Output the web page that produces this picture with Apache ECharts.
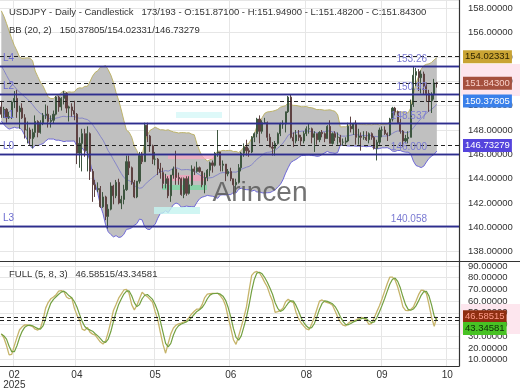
<!DOCTYPE html>
<html><head><meta charset="utf-8">
<script src="https://cdn.jsdelivr.net/npm/echarts@6/dist/echarts.min.js"></script>
<style>html,body{margin:0;padding:0;background:#fff}#c{width:520px;height:390px}</style>
</head><body><div id="c"></div>
<script>
// ---- warm-up bars before the first visible bar (needed for the 20-bar Bollinger window) ----
const warmHigh  = [157.5,157.8,157.3,156.6,155.5,155.9,155.0,154.6,152.9,152.4,152.2,152.7,154.8,154.4,153.2,152.4,152.0,152.1,151.6];
const warmLow   = [155.9,156.5,156.2,155.6,154.2,154.0,154.0,152.3,151.3,150.9,151.2,151.8,152.3,152.5,151.9,151.3,151.1,151.3,149.9];
const warmClose = [157.0,157.3,156.8,156.0,155.2,154.6,154.4,152.6,151.9,151.4,152.0,152.5,154.4,152.8,152.3,151.5,151.9,151.5,149.9];

// ---- visible daily candles ----
const open = [
149.9,149.3,149.7,149.0,149.1,150.3,150.6,149.5,149.8,149.0,
148.0,148.0,147.3,147.8,148.7,147.8,148.6,149.2,149.3,148.7,
148.8,149.3,150.7,149.9,150.6,151.0,149.8,149.9,149.6,149.3,
146.1,146.9,147.7,146.3,147.7,144.6,143.5,143.1,143.2,141.7,
142.5,140.9,141.5,143.4,142.6,143.7,142.0,142.3,143.1,145.4,
144.9,143.7,142.5,143.8,145.9,145.4,148.4,147.5,146.7,145.6,
145.6,144.8,144.5,143.6,144.0,142.6,144.3,144.8,144.1,144.0,
142.7,144.0,142.8,143.5,144.8,144.6,144.9,144.6,143.5,144.1,
144.7,145.3,145.1,146.1,146.2,145.1,145.2,144.4,144.6,144.0,
143.5,143.7,144.9,146.1,146.6,146.3,146.2,147.4,147.7,148.9,
147.9,148.6,148.6,147.4,146.6,146.5,146.9,147.7,148.5,148.5,
149.5,150.7,147.4,147.1,147.6,147.4,147.1,147.7,148.1,148.1,
147.4,147.7,147.2,147.8,147.7,147.3,148.3,146.9,147.7,147.4,
147.4,147.0,147.0,147.1,148.3,148.1,148.5,147.4,147.5,147.4,
147.4,147.2,147.7,147.4,146.5,147.0,148.0,148.0,147.7,147.6,
148.9,149.8,149.5,148.6,147.9,147.1,147.3,147.4,150.1,152.5,
152.8,152.3,152.6,151.6,151.0,150.4,150.9,151.871];
const high = [
150.4,149.9,149.8,149.5,150.4,151.2,151.3,150.0,150.2,149.3,
148.7,148.2,148.1,149.2,148.8,148.8,149.4,150.1,150.0,149.2,
149.6,150.8,150.8,150.7,151.2,151.1,150.0,150.2,150.4,149.4,
147.4,148.1,148.1,148.3,147.8,144.8,143.9,143.7,143.4,142.9,
142.6,141.9,143.7,143.5,143.9,144.0,142.6,143.5,145.9,145.9,
145.0,143.9,143.8,146.2,146.2,148.6,148.6,147.6,146.8,146.2,
145.7,145.3,144.9,144.4,144.2,144.3,145.0,146.3,144.5,144.1,
144.1,144.2,144.2,145.1,145.0,145.4,145.0,144.6,144.5,144.8,
145.4,145.5,146.2,148.0,146.2,145.5,145.2,144.8,144.9,144.0,
144.0,145.2,146.2,146.9,147.2,146.5,147.5,147.8,149.0,149.2,
148.8,149.0,148.7,147.7,147.0,147.1,147.8,148.6,148.8,149.5,
150.8,150.9,147.8,148.0,148.0,147.6,147.9,148.3,148.5,148.2,
147.9,147.7,147.9,148.0,147.8,148.4,148.8,147.8,147.9,147.8,
147.6,147.3,147.4,148.6,149.1,148.5,148.8,148.1,147.8,147.9,
147.9,147.8,147.8,147.5,147.2,148.2,148.3,148.3,147.8,149.0,
149.9,149.9,149.6,148.9,148.0,147.6,147.9,150.5,153.26,153.1,
153.0,152.9,152.8,151.9,151.3,151.1,152.2,151.949];
const low = [
149.0,149.0,148.6,148.9,148.9,149.8,149.0,148.1,148.9,147.3,
146.9,146.8,146.5,147.4,147.4,147.7,148.4,148.9,148.2,148.2,
148.5,149.2,149.5,149.6,150.1,149.4,148.7,149.1,148.8,145.2,
144.9,144.6,145.8,144.6,143.9,142.1,142.5,142.9,141.6,141.6,
140.6,139.9,141.4,141.9,142.4,141.9,141.5,141.9,143.0,144.3,
143.5,142.4,142.4,143.6,145.2,145.4,147.0,146.2,145.2,145.1,
144.3,144.0,143.2,143.2,142.4,142.1,144.0,143.5,143.5,142.6,
142.4,142.6,142.7,143.4,144.3,144.5,144.5,143.3,142.8,143.8,
144.2,144.5,145.0,145.8,144.6,144.6,143.8,144.2,143.8,142.7,
142.9,143.6,144.6,145.8,145.9,145.8,146.1,147.0,147.4,146.9,
147.7,148.5,147.1,146.6,145.9,145.9,146.8,147.5,148.1,147.8,
149.4,147.3,146.6,146.9,147.1,146.7,146.9,147.5,147.7,146.9,
146.2,146.8,147.0,147.4,147.0,147.3,146.9,146.8,147.1,146.8,
146.7,146.7,146.8,147.0,147.8,147.6,146.8,146.8,146.3,147.2,
147.1,146.9,147.2,146.4,145.5,146.8,147.4,147.6,147.1,147.5,
148.7,149.2,148.5,147.7,146.6,146.9,146.9,147.4,149.9,151.6,
151.2,151.0,150.9,150.3,149.5,149.4,150.5,151.482];
const close = [
149.3,149.7,149.0,149.1,150.3,150.6,149.5,149.8,149.0,148.0,
148.0,147.3,147.8,148.7,147.8,148.6,149.2,149.3,148.7,148.8,
149.3,150.7,149.9,150.6,151.0,149.8,149.9,149.6,149.3,146.1,
146.9,147.7,146.3,147.7,144.6,143.5,143.1,143.2,141.7,142.5,
140.9,141.5,143.4,142.6,143.7,142.0,142.3,143.1,145.4,144.9,
143.7,142.5,143.8,145.9,145.4,148.4,147.5,146.7,145.6,145.6,
144.8,144.5,143.6,144.0,142.6,144.3,144.8,144.1,144.0,142.7,
144.0,142.8,143.5,144.8,144.6,144.9,144.6,143.5,144.1,144.7,
145.3,145.1,146.1,146.2,145.1,145.2,144.4,144.6,144.0,143.5,
143.7,144.9,146.1,146.6,146.3,146.2,147.4,147.7,148.9,147.9,
148.6,148.6,147.4,146.6,146.5,146.9,147.7,148.5,148.5,149.5,
150.7,147.4,147.1,147.6,147.4,147.1,147.7,148.1,148.1,147.4,
147.7,147.2,147.8,147.7,147.3,148.3,146.9,147.7,147.4,147.4,
147.0,147.0,147.1,148.3,148.1,148.5,147.4,147.5,147.4,147.4,
147.2,147.7,147.4,146.5,147.0,148.0,148.0,147.7,147.6,148.9,
149.8,149.5,148.6,147.9,147.1,147.3,147.4,150.1,152.5,152.8,
152.3,152.6,151.6,151.0,150.4,150.9,151.871,151.843];

// ---- Full stochastic %K ----
const stochK = [
32,28.5,22,14,14.5,22,29,35.5,38,39.7,
39.6,39,38.2,36,35.3,37,44,54,59,62,
63.5,65.5,68.5,69,68,63.5,62,63,54,48,
44,36,35,37.6,33.5,31.8,31,28,25,23.3,
26,33.5,42.5,52,57,62.5,66,69.5,70,66.5,
57,52.5,56.5,62,67.5,65.5,63.8,61.5,59,51,
44,33,23,15.5,24,32,37,39.5,40.5,41.3,
42.2,43.3,46,49,51.3,53.2,53.2,57,63,66,
66.3,66.6,66.6,66.6,64.5,61.5,56,46,37,27,
23,30,38,46,55,69,82,84.5,85.3,84,
80.5,76,72,65.5,60,50.4,51,52,54,59.5,
61.5,59.8,58.7,50.5,45,41.3,38.6,36.2,35.5,40.5,
46,53,60,61,59.6,58.6,58,56.5,51.5,46.5,
42,39.5,38.8,41,42.6,43.1,43.7,45.3,46,45.2,
43.5,40,41,45.8,51,56,62,68.5,75,80.5,
80.5,78,72,64,55,52,51.8,52.8,55,60,
65.5,69.4,69.2,66.5,57,46,38.5,46.585];

// ---- axis ticks / labels / text ----
const slotCount = 176;
const tickIdx  = [5,29,59,88,117,146,171];
const tickText = ['02\n2025','04','05','06','08','09','10'];
const levelNames  = ['L4','L2','L1','L0','L3'];
const levelValues = [153.26,150.92,148.537,146.000,140.058];
const levelText   = ['153.26','150.92','148.537','146.000','140.058'];
const bbLast    = [150.37805,154.02331,146.73279];   // middle / upper / lower
const lastClose = 151.843;
const stochLast = [46.58515,43.34581];
const titleText = 'USDJPY - Daily - Candlestick   173/193 - O:151.87100 - H:151.94900 - L:151.48200 - C:151.84300';
const bbText    = 'BB (20, 2)   150.37805/154.02331/146.73279';
const stochText = 'FULL (5, 8, 3)   46.58515/43.34581';
const watermark = 'Arincen';

// ---- derived series ----
const N = close.length;
const W = warmClose.length;
const allClose = warmClose.concat(close);
const bbMid = [], bbLow = [], bbWidth = [];
for (let i = 0; i < N; i++) {
  const j = i + W;
  const win = allClose.slice(j - 19, j + 1);
  const m = win.reduce((a, b) => a + b, 0) / win.length;
  const sd = Math.sqrt(win.reduce((a, b) => a + (b - m) * (b - m), 0) / win.length);
  bbMid.push(m); bbLow.push(m - 2 * sd); bbWidth.push(4 * sd);
}
const stochD = stochK.map((v, i) => {
  const s = stochK.slice(Math.max(0, i - 2), i + 1);
  return s.reduce((a, b) => a + b, 0) / s.length;
});
const candles = open.map((o, i) => [o, close[i], low[i], high[i]]);
const cats = Array.from({length: slotCount}, (_, i) => {
  const k = tickIdx.indexOf(i);
  return k >= 0 ? tickText[k] : String(i);
});
const showTick = (i) => tickIdx.indexOf(i) >= 0;

const FONT = 'Liberation Sans, Arial, sans-serif';
const yMin0 = 137.24, yMax0 = 158.68;
const yMin1 = 4.56, yMax1 = 94.25;

const levelLine = {type: 'solid', color: '#2e2e8e', width: 1.3};
const dashLine = {type: [4, 3], color: '#222', width: 1};
function boxLabel(v, bg, fg, off) {
  return {show: true, position: 'end', distance: 4, formatter: v.toFixed(5),
    backgroundColor: bg, color: fg, padding: [2, 2, 1, 2], fontSize: 9.5, fontFamily: FONT,
    offset: off || [0, 0]};
}

const mainMarks = [
  {yAxis: bbLast[1], lineStyle: dashLine, label: boxLabel(bbLast[1], '#c9a433', '#2e2400')},
  {yAxis: lastClose, lineStyle: dashLine, label: boxLabel(lastClose, '#a5503e', '#f9cfc8')},
  {yAxis: bbLast[0], lineStyle: dashLine, label: boxLabel(bbLast[0], '#3a80ea', '#ffffff')},
  {yAxis: bbLast[2], lineStyle: dashLine, label: boxLabel(bbLast[2], '#5544dd', '#ffffff')}
];
levelValues.forEach((v, k) => {
  mainMarks.push({yAxis: v, lineStyle: levelLine,
    label: {show: true, position: 'insideStartTop', formatter: levelNames[k], color: '#6a6ad0',
      fontSize: 10, fontFamily: FONT, distance: 3}});
  mainMarks.push({yAxis: v, lineStyle: levelLine,
    label: {show: true, position: 'insideEndTop', formatter: levelText[k], color: '#7a7ad2',
      fontSize: 10, fontFamily: FONT, distance: 2, padding: [0, 30, 0, 0]}});
});

const chart = echarts.init(document.getElementById('c'));
chart.setOption({
  animation: false,
  backgroundColor: '#ffffff',
  grid: [
    {left: 0, top: 0, width: 459, height: 261},
    {left: 0, top: 261, width: 459, height: 107}
  ],
  xAxis: [
    {type: 'category', gridIndex: 0, data: cats, boundaryGap: true,
      axisLine: {show: false}, axisTick: {show: false}, axisLabel: {show: false},
      splitLine: {show: true, interval: showTick, lineStyle: {color: '#e6e6e6'}}},
    {type: 'category', gridIndex: 1, data: cats, boundaryGap: true,
      axisLine: {show: true, lineStyle: {color: '#333', width: 1.2}}, axisTick: {show: false},
      axisLabel: {interval: showTick, color: '#333', fontSize: 10, fontFamily: FONT, margin: 4, lineHeight: 10},
      splitLine: {show: true, interval: showTick, lineStyle: {color: '#e6e6e6'}}}
  ],
  yAxis: [
    {type: 'value', gridIndex: 0, position: 'right', min: yMin0, max: yMax0, splitNumber: 10,
      axisLine: {show: true, lineStyle: {color: '#333', width: 1.2}}, axisTick: {show: false},
      axisLabel: {formatter: (v) => v.toFixed(5), showMinLabel: false, showMaxLabel: false,
        color: '#333', fontSize: 9.5, fontFamily: FONT, margin: 9},
      splitLine: {lineStyle: {color: '#e6e6e6'}}},
    {type: 'value', gridIndex: 1, position: 'right', min: yMin1, max: yMax1, splitNumber: 9,
      axisLine: {show: true, lineStyle: {color: '#333', width: 1.2}}, axisTick: {show: false},
      axisLabel: {formatter: (v) => Math.abs(v - yMin1) < 1e-6 ? '0' : (Math.abs(v - yMax1) < 1e-6 ? '100.0000' : v.toFixed(5)),
        color: '#333', fontSize: 9.5, fontFamily: FONT, margin: 9},
      splitLine: {lineStyle: {color: '#e6e6e6'}}}
  ],
  series: [
    {name: 'bbLow', type: 'line', xAxisIndex: 0, yAxisIndex: 0, data: bbLow, stack: 'bb',
      symbol: 'none', lineStyle: {color: '#6e68d8', width: 1}, z: 1, silent: true},
    {name: 'bbBand', type: 'line', xAxisIndex: 0, yAxisIndex: 0, data: bbWidth, stack: 'bb',
      symbol: 'none', lineStyle: {color: '#bdb36a', width: 1},
      areaStyle: {color: '#c0c0c0', opacity: 1}, z: 1, silent: true},
    {name: 'bbMid', type: 'line', xAxisIndex: 0, yAxisIndex: 0, data: bbMid,
      symbol: 'none', lineStyle: {color: '#8686c8', width: 1}, z: 2, silent: true,
      markLine: {symbol: ['none', 'none'], silent: true, animation: false, data: mainMarks}},
    {name: 'price', type: 'candlestick', xAxisIndex: 0, yAxisIndex: 0, data: candles,
      barWidth: 1.6, z: 3, silent: true,
      itemStyle: {color: '#3e5640', color0: '#5e4242', borderColor: '#3e5640', borderColor0: '#5e4242', borderWidth: 1}},
    {name: 'K', type: 'line', xAxisIndex: 1, yAxisIndex: 1, data: stochK, symbol: 'none',
      lineStyle: {color: '#c6b46a', width: 1.3}, z: 3, silent: true,
      markLine: {symbol: ['none', 'none'], silent: true, animation: false, data: [
        {yAxis: stochLast[0], lineStyle: dashLine, label: boxLabel(stochLast[0], '#8e2e10', '#ff9c8a')},
        {yAxis: stochLast[1], lineStyle: dashLine, label: boxLabel(stochLast[1], '#48c224', '#0c2a08', [0, 8])}
      ]}},
    {name: 'D', type: 'line', xAxisIndex: 1, yAxisIndex: 1, data: stochD, symbol: 'none',
      lineStyle: {color: '#72a040', width: 1.2}, z: 3, silent: true}
  ],
  graphic: [
    {type: 'rect', z: -1, shape: {x: 461, y: 64, width: 59, height: 32}, style: {fill: '#fde6ee'}},
    {type: 'rect', z: -1, shape: {x: 461, y: 304, width: 59, height: 30}, style: {fill: '#fde6ee'}},
    {type: 'rect', z: 2, shape: {x: 168, y: 155, width: 48, height: 4}, style: {fill: '#f7a8c0', opacity: 0.75}},
    {type: 'rect', z: 2, shape: {x: 162, y: 175, width: 45, height: 6}, style: {fill: '#f4a0bc', opacity: 0.75}},
    {type: 'rect', z: 2, shape: {x: 162, y: 185, width: 45, height: 5}, style: {fill: '#78d8a0', opacity: 0.75}},
    {type: 'rect', z: 2, shape: {x: 176, y: 112, width: 46, height: 6}, style: {fill: '#d6f8f8', opacity: 0.8}},
    {type: 'rect', z: 2, shape: {x: 154, y: 207, width: 46, height: 7}, style: {fill: '#c4f4f0', opacity: 0.8}},
    {type: 'line', z: 10, shape: {x1: 0, y1: 261.5, x2: 520, y2: 261.5}, style: {stroke: '#333', lineWidth: 1}},
    {type: 'text', z: 10, x: 9, y: 12, style: {text: titleText, fill: '#333', font: '9.5px ' + FONT, textVerticalAlign: 'middle'}},
    {type: 'text', z: 10, x: 9, y: 30, style: {text: bbText, fill: '#333', font: '9.5px ' + FONT, textVerticalAlign: 'middle'}},
    {type: 'text', z: 10, x: 9, y: 274, style: {text: stochText, fill: '#333', font: '9.5px ' + FONT, textVerticalAlign: 'middle'}},
    {type: 'text', z: 10, x: 260, y: 193, style: {text: watermark, fill: '#5a5a5a', opacity: 0.85, font: '28px ' + FONT, textAlign: 'center', textVerticalAlign: 'middle'}}
  ]
});
</script>
</body></html>
